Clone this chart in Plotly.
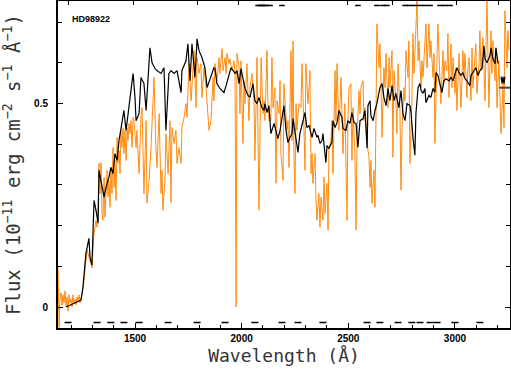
import plotly.graph_objects as go

# smoothed spectrum (black)
black_wl = [1177, 1200, 1223, 1247, 1256, 1270, 1284, 1289, 1298, 1308, 1317, 1327, 1331, 1345, 1355, 1364,
            1378, 1387, 1397, 1406, 1416, 1425, 1439, 1448, 1458, 1472, 1481, 1491, 1500, 1505, 1519, 1528,
            1542, 1552, 1570, 1580, 1594, 1603, 1622, 1636, 1645, 1659, 1669, 1683, 1697, 1716, 1720, 1739,
            1748, 1758, 1767, 1781, 1791, 1800, 1814, 1828, 1838, 1852, 1870, 1875, 1884, 1898, 1917, 1927,
            1941, 1950, 1969, 1978, 1988, 1997, 2011, 2016, 2030, 2039, 2053, 2062, 2072, 2081, 2095, 2105,
            2109, 2119, 2128, 2137, 2152, 2156, 2170, 2180, 2198, 2208, 2217, 2227, 2236, 2241, 2255, 2264,
            2273, 2287, 2297, 2306, 2316, 2330, 2339, 2353, 2358, 2367, 2377, 2381, 2391, 2395, 2400, 2409,
            2423, 2428, 2438, 2447, 2456, 2470, 2475, 2489, 2498, 2508, 2517, 2527, 2536, 2545, 2555, 2569,
            2578, 2588, 2592, 2602, 2606, 2616, 2625, 2634, 2648, 2658, 2667, 2677, 2686, 2695, 2705, 2714,
            2723, 2737, 2747, 2756, 2766, 2775, 2789, 2794, 2803, 2812, 2817, 2827, 2836, 2841, 2850, 2859,
            2864, 2878, 2887, 2897, 2906, 2911, 2920, 2934, 2939, 2948, 2958, 2972, 2981, 2991, 3000, 3009,
            3019, 3028, 3037, 3047, 3056, 3070, 3075, 3089, 3098, 3108, 3117, 3127, 3136, 3141, 3150, 3164,
            3169, 3178, 3188, 3192, 3202]
black_flux = [0.000, 0.005, 0.010, 0.017, 0.049, 0.132, 0.169, 0.123, 0.103, 0.262, 0.238, 0.206, 0.336, 0.294,
              0.270, 0.294, 0.319, 0.343, 0.328, 0.377, 0.360, 0.409, 0.458, 0.483, 0.434, 0.500, 0.539, 0.574,
              0.515, 0.458, 0.475, 0.564, 0.549, 0.483, 0.637, 0.600, 0.586, 0.581, 0.574, 0.588, 0.434, 0.574,
              0.581, 0.574, 0.581, 0.527, 0.581, 0.605, 0.647, 0.556, 0.647, 0.564, 0.659, 0.630, 0.613, 0.588,
              0.539, 0.561, 0.588, 0.586, 0.549, 0.537, 0.527, 0.544, 0.569, 0.588, 0.574, 0.581, 0.549, 0.586,
              0.549, 0.537, 0.520, 0.515, 0.549, 0.507, 0.500, 0.515, 0.490, 0.483, 0.500, 0.478, 0.495, 0.426,
              0.451, 0.441, 0.414, 0.434, 0.495, 0.434, 0.404, 0.417, 0.426, 0.463, 0.414, 0.380, 0.426, 0.458,
              0.478, 0.441, 0.446, 0.417, 0.439, 0.417, 0.422, 0.402, 0.409, 0.426, 0.385, 0.355, 0.397, 0.390,
              0.404, 0.458, 0.441, 0.453, 0.483, 0.466, 0.439, 0.434, 0.458, 0.451, 0.478, 0.453, 0.451, 0.392,
              0.458, 0.463, 0.483, 0.390, 0.495, 0.507, 0.470, 0.458, 0.483, 0.500, 0.539, 0.549, 0.515, 0.495,
              0.537, 0.507, 0.544, 0.507, 0.525, 0.490, 0.532, 0.475, 0.458, 0.500, 0.495, 0.478, 0.417, 0.373,
              0.475, 0.539, 0.549, 0.532, 0.525, 0.537, 0.502, 0.520, 0.515, 0.537, 0.527, 0.576, 0.569, 0.539,
              0.527, 0.556, 0.561, 0.556, 0.564, 0.556, 0.574, 0.588, 0.576, 0.569, 0.576, 0.561, 0.556, 0.544,
              0.569, 0.581, 0.588, 0.569, 0.581, 0.586, 0.642, 0.610, 0.600, 0.618, 0.637, 0.610, 0.598, 0.637,
              0.598]

# the little "w" and bar at the right edge
w_wl = [3216, 3221, 3225, 3230, 3234]
w_flux = [0.566, 0.549, 0.566, 0.549, 0.566]
bar_wl = [3208, 3258]
bar_flux = [0.539, 0.539]

# observed spectrum (orange)
orange_wl = [1139, 1144, 1148, 1153, 1158, 1162, 1167, 1172, 1177, 1181, 1186, 1191, 1195, 1200, 1205, 1209,
             1214, 1219, 1223, 1228, 1233, 1238, 1242, 1247, 1252, 1256, 1261, 1275, 1289, 1298, 1308, 1317,
             1322, 1327, 1331, 1336, 1341, 1345, 1350, 1355, 1359, 1364, 1369, 1373, 1378, 1383, 1387, 1392,
             1397, 1402, 1406, 1411, 1416, 1420, 1425, 1430, 1434, 1439, 1444, 1448, 1453, 1458, 1463, 1467,
             1472, 1477, 1481, 1486, 1491, 1495, 1505, 1509, 1519, 1528, 1533, 1542, 1552, 1556, 1566, 1575,
             1580, 1589, 1598, 1603, 1613, 1622, 1627, 1631, 1641, 1645, 1655, 1664, 1669, 1673, 1683, 1692,
             1697, 1706, 1716, 1720, 1730, 1739, 1744, 1753, 1763, 1767, 1777, 1786, 1791, 1800, 1809, 1814,
             1823, 1833, 1838, 1847, 1856, 1861, 1866, 1870, 1875, 1884, 1894, 1898, 1908, 1913, 1922, 1927,
             1931, 1941, 1945, 1955, 1964, 1969, 1974, 1978, 1988, 1992, 1997, 2006, 2011, 2016, 2025, 2034,
             2039, 2048, 2058, 2062, 2067, 2072, 2081, 2086, 2091, 2100, 2105, 2109, 2119, 2123, 2128, 2137,
             2142, 2147, 2156, 2161, 2166, 2175, 2180, 2184, 2194, 2198, 2203, 2212, 2217, 2222, 2231, 2236,
             2241, 2245, 2250, 2255, 2259, 2269, 2278, 2283, 2292, 2297, 2301, 2311, 2316, 2320, 2325, 2330,
             2334, 2344, 2348, 2353, 2362, 2367, 2372, 2381, 2386, 2391, 2400, 2405, 2409, 2419, 2423, 2428,
             2438, 2442, 2447, 2456, 2461, 2466, 2475, 2480, 2484, 2494, 2498, 2503, 2512, 2517, 2522, 2531,
             2536, 2541, 2550, 2555, 2559, 2569, 2573, 2578, 2588, 2592, 2597, 2602, 2606, 2611, 2620, 2625,
             2630, 2634, 2644, 2648, 2653, 2658, 2667, 2672, 2677, 2686, 2691, 2695, 2705, 2709, 2714, 2723,
             2728, 2733, 2742, 2747, 2752, 2761, 2766, 2770, 2780, 2784, 2789, 2798, 2803, 2808, 2817, 2822,
             2827, 2831, 2841, 2845, 2850, 2859, 2864, 2869, 2878, 2883, 2887, 2897, 2902, 2906, 2916, 2920,
             2930, 2934, 2944, 2948, 2953, 2962, 2967, 2972, 2981, 2986, 2991, 3000, 3005, 3009, 3019, 3023,
             3028, 3037, 3042, 3047, 3056, 3061, 3066, 3075, 3080, 3084, 3094, 3098, 3103, 3113, 3117, 3122,
             3131, 3136, 3141, 3150, 3155, 3159, 3169, 3173, 3178, 3188, 3192, 3197, 3206, 3211, 3216, 3225,
             3230, 3234, 3244, 3248, 3253]
orange_flux = [0.10, -0.05, 0.02, 0.035, 0.005, 0.03, 0.01, 0.04, 0.0, 0.025, -0.01, 0.03, 0.01, 0.02, 0.0, 0.03,
               0.01, 0.02, 0.005, 0.025, 0.015, 0.03, 0.01, 0.02, 0.03, 0.045, 0.066, 0.14, 0.115, 0.096, 0.181,
               0.213, 0.196, 0.245, 0.353, 0.279, 0.355, 0.230, 0.213, 0.319, 0.221, 0.287, 0.336, 0.270, 0.311,
               0.245, 0.343, 0.279, 0.392, 0.294, 0.360, 0.262, 0.417, 0.353, 0.385, 0.328, 0.434, 0.392, 0.441,
               0.377, 0.434, 0.360, 0.441, 0.409, 0.451, 0.426, 0.458, 0.392, 0.466, 0.458, 0.392, 0.434, 0.328,
               0.466, 0.490, 0.279, 0.458, 0.255, 0.311, 0.392, 0.458, 0.564, 0.392, 0.343, 0.475, 0.279, 0.336,
               0.238, 0.319, 0.426, 0.328, 0.458, 0.257, 0.441, 0.402, 0.434, 0.353, 0.392, 0.353, 0.441, 0.466,
               0.500, 0.466, 0.598, 0.507, 0.539, 0.630, 0.490, 0.613, 0.574, 0.598, 0.515, 0.588, 0.539, 0.507,
               0.434, 0.458, 0.539, 0.564, 0.507, 0.598, 0.556, 0.613, 0.574, 0.635, 0.581, 0.613, 0.574, 0.623,
               0.598, 0.610, 0.581, 0.605, 0.574, 0.0, 0.623, 0.588, 0.475, 0.605, 0.402, 0.556, 0.500, 0.598,
               0.458, 0.539, 0.574, 0.507, 0.360, 0.539, 0.613, 0.238, 0.490, 0.613, 0.475, 0.507, 0.458, 0.630,
               0.500, 0.458, 0.458, 0.613, 0.490, 0.539, 0.304, 0.507, 0.475, 0.556, 0.377, 0.311, 0.549, 0.500,
               0.434, 0.458, 0.343, 0.630, 0.409, 0.654, 0.377, 0.279, 0.500, 0.434, 0.500, 0.490, 0.598, 0.441,
               0.336, 0.598, 0.500, 0.539, 0.581, 0.328, 0.377, 0.304, 0.377, 0.270, 0.213, 0.279, 0.196, 0.270,
               0.213, 0.319, 0.230, 0.304, 0.189, 0.392, 0.409, 0.458, 0.328, 0.581, 0.458, 0.598, 0.434, 0.500,
               0.564, 0.377, 0.451, 0.500, 0.213, 0.458, 0.539, 0.549, 0.360, 0.490, 0.377, 0.189, 0.417, 0.532,
               0.475, 0.539, 0.556, 0.458, 0.490, 0.392, 0.385, 0.368, 0.294, 0.360, 0.255, 0.336, 0.245, 0.483,
               0.696, 0.588, 0.647, 0.564, 0.417, 0.588, 0.539, 0.623, 0.490, 0.613, 0.539, 0.630, 0.368, 0.581,
               0.507, 0.426, 0.598, 0.483, 0.287, 0.441, 0.539, 0.507, 0.630, 0.564, 0.654, 0.353, 0.507, 0.672,
               0.574, 0.686, 0.76, 0.605, 0.654, 0.539, 0.605, 0.564, 0.637, 0.696, 0.588, 0.696, 0.613, 0.654,
               0.564, 0.623, 0.402, 0.605, 0.696, 0.556, 0.500, 0.630, 0.549, 0.605, 0.581, 0.672, 0.515, 0.647,
               0.539, 0.613, 0.525, 0.588, 0.483, 0.623, 0.539, 0.490, 0.630, 0.564, 0.623, 0.515, 0.588, 0.613,
               0.507, 0.637, 0.539, 0.605, 0.647, 0.525, 0.598, 0.679, 0.581, 0.662, 0.588, 0.507, 0.76, 0.647,
               0.490, 0.679, 0.574, 0.654, 0.556, 0.637, 0.490, 0.605, 0.507, 0.426, 0.549, 0.441, 0.728, 0.588,
               0.679, 0.630]

# flagged pixels shown as small dashes along the bottom and top
flag_bottom_wl = [1186, 1322, 1387, 1448, 1519, 1655, 1791, 1922, 2062, 2189, 2264, 2381, 2588, 2648, 2733,
                  2798, 2836, 2883, 2916, 3000, 3117]
flag_top_wl = [2077, 2086, 2095, 2105, 2114, 2133, 2189, 2545, 2634, 2662, 2681, 2766, 2789, 2812, 2836, 2859,
               2883, 2930, 2953, 2977]
flag_bottom_y = -0.038
flag_top_y = 0.741

top_ticks = [1186, 1491, 1791, 1983, 2498, 2705, 3009, 3202]

x_range = [1139, 3258]
y_range = [-0.0515, 0.752]

fig = go.Figure()

fig.add_trace(go.Scatter(x=orange_wl, y=orange_flux, mode='lines', line=dict(color='#ff8c10', width=1),
                         name='IUE'))
fig.add_trace(go.Scatter(x=black_wl, y=black_flux, mode='lines', line=dict(color='black', width=1.2),
                         name='model'))
fig.add_trace(go.Scatter(x=w_wl, y=w_flux, mode='lines', line=dict(color='black', width=1.2)))
fig.add_trace(go.Scatter(x=bar_wl, y=bar_flux, mode='lines', line=dict(color='#444', width=2)))
fig.add_trace(go.Scatter(x=flag_bottom_wl, y=[flag_bottom_y] * len(flag_bottom_wl), mode='markers',
                         marker=dict(symbol='line-ew', size=5, line=dict(color='black', width=1.5))))
fig.add_trace(go.Scatter(x=flag_top_wl, y=[flag_top_y] * len(flag_top_wl), mode='markers', xaxis='x2',
                         marker=dict(symbol='line-ew', size=4, line=dict(color='black', width=1.5))))

x_title_font = dict(family='DejaVu Sans Mono', size=18, color='#333')
y_title_font = dict(family='DejaVu Sans Mono', size=19, color='#333')
tick_font = dict(family='Liberation Sans', size=10, color='black', weight='bold')

fig.update_layout(
    width=511, height=372,
    margin=dict(l=58, r=1, t=1, b=44, pad=0, autoexpand=False),
    plot_bgcolor='white', paper_bgcolor='white',
    showlegend=False,
    xaxis=dict(range=x_range, tickvals=[1500, 2000, 2500, 3000], ticks='inside', ticklen=5, tickwidth=1,
               tickcolor='black', showgrid=False, zeroline=False, showline=True, linecolor='black', linewidth=2,
               mirror=True, tickfont=tick_font, automargin=False,
               minor=dict(dtick=100, ticks='inside', ticklen=3, tickcolor='black'),
               title=dict(text='Wavelength (Å)', font=x_title_font, standoff=6)),
    xaxis2=dict(range=x_range, overlaying='x', side='top', tickvals=top_ticks, ticks='inside', ticklen=4,
                tickcolor='black', showticklabels=False, showgrid=False, zeroline=False, showline=False,
                automargin=False),
    yaxis=dict(range=y_range, tickvals=[0, 0.5], ticktext=['0', '0.5'], ticks='inside', ticklen=5,
               tickcolor='black', showgrid=False, zeroline=False, showline=True, linecolor='black', linewidth=2,
               mirror='ticks', tickfont=tick_font, ticklabelstandoff=6, automargin=False,
               minor=dict(dtick=0.1, ticks='inside', ticklen=4, tickcolor='black'),
               title=dict(text='Flux (10<sup>−11</sup> erg cm<sup>−2</sup> s<sup>−1</sup> Å<sup>−1</sup>)',
                          font=y_title_font, standoff=12)),
    annotations=[dict(text='HD98922', xref='paper', yref='paper', x=0.026, y=0.945, xanchor='left',
                      yanchor='middle', showarrow=False,
                      font=dict(family='Liberation Sans', size=9, color='black', weight='bold'))],
)

# drop the default page margin so the figure sits at the window corner
fig.write_html("out.html", config={'displayModeBar': False},
               post_script="document.body.style.margin='0';")
